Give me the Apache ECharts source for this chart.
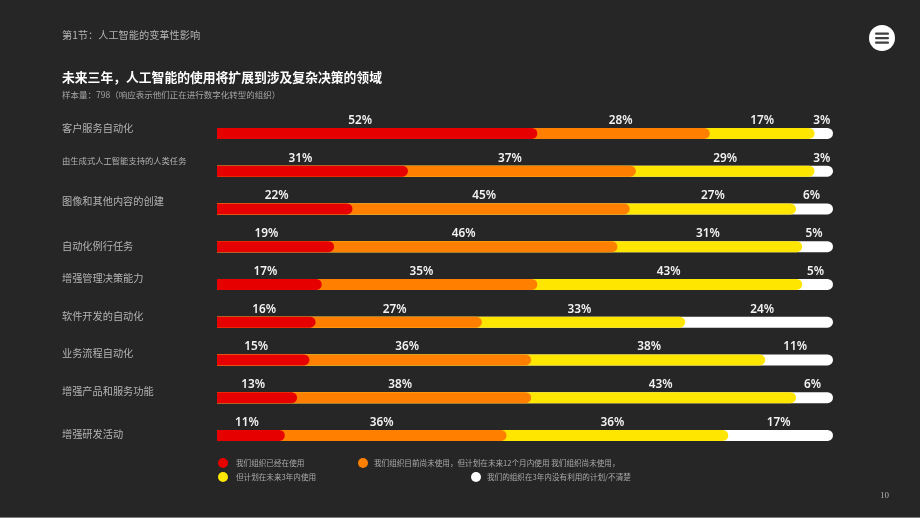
<!DOCTYPE html>
<html>
<head>
<meta charset="utf-8">
<style>
html, body { margin: 0; padding: 0; background: #262626; }
#main { width: 920px; height: 518px; }
</style>
<script src="https://cdn.jsdelivr.net/npm/echarts@6/dist/echarts.min.js"></script>
</head>
<body>
<div id="main"></div>
<script>
const categories = ['客户服务自动化', '由生成式人工智能支持的人类任务', '图像和其他内容的创建', '自动化例行任务', '增强管理决策能力', '软件开发的自动化', '业务流程自动化', '增强产品和服务功能', '增强研发活动'];
const usingNow = [52, 31, 22, 19, 17, 16, 15, 13, 11];
const within12Months = [28, 37, 45, 46, 35, 27, 36, 38, 36];
const within3Years = [17, 29, 27, 31, 43, 33, 38, 43, 36];
const noPlan = [3, 3, 6, 5, 5, 24, 11, 6, 17];
const seriesNames = ['我们组织已经在使用', '我们组织目前尚未使用，但计划在未来12个月内使用 我们组织尚未使用，', '但计划在未来3年内使用', '我们的组织在3年内没有利用的计划/不清楚'];

const FONT = '"Noto Sans CJK SC", "Noto Sans", sans-serif';
const colors = ['#e60000', '#ff8000', '#ffe600', '#ffffff'];
const values = [usingNow, within12Months, within3Years, noPlan];

// the percent labels sit a little left of their segment centre in the original
const labelNudge = [
	[-17, -3, 0, -2],
	[-12, -12, 0, -2],
	[-8, -7, 0, -3],
	[-9, -12, -2, -3.5],
	[-4, -8, -1, -2],
	[-2, -4, -4, 3],
	[-7, -13, 1, -4],
	[-4, -14, -3, -2],
	[-4, -14, -5, -2]
];
// row names are not centred on their bars either
const nameRaise = [5, 10, 8, 1, 6, 6, 7, 7, 1];

let segData = k => categories.map((c, i) => {
	let start = 0;
	for (let j = 0; j < k; j++) start += values[j][i];
	let end = start + values[k][i];
	// labels are rounded and one row adds up to 101, so the last two segments are set from the right
	if (k == 2) end = 100 - noPlan[i];
	if (k == 3) { start = 100 - noPlan[i]; end = 100; }
	return [i, start, end, values[k][i]];
});

let renderSeg = k => (params, api) => {
	let row = api.value(0);
	let p0 = api.coord([api.value(1), row]);
	let p1 = api.coord([api.value(2), row]);
	let p00 = api.coord([0, row]);
	let h = 11;
	let r = h / 2;
	return {
		type: 'group',
		children: [{
			type: 'rect',
			// each segment runs in under the rounded end of the one before it
			shape: { x: p00[0], y: p1[1] - h / 2, width: p1[0] - p00[0], height: h, r: [0, r, r, 0] },
			style: { fill: colors[k] }
		}, {
			type: 'text',
			style: {
				text: api.value(3) + '%',
				x: (p0[0] + p1[0]) / 2 + labelNudge[row][k],
				y: p1[1] - 13,
				fill: '#f2f2f2',
				font: '600 11.8px "Noto Sans", ' + FONT,
				align: 'center',
				verticalAlign: 'middle'
			}
		}]
	};
};

let rich = {};
categories.forEach((c, i) => {
	rich['n' + i] = {
		color: '#b3b3b3',
		fontFamily: FONT,
		fontSize: i == 1 ? 8.3 : 10.2,
		padding: [0, 0, nameRaise[i] * 2, 0]
	};
});

// one legend per entry, the original places them by hand
let legendAt = (name, left, top, textPadding) => ({
	left, top,
	data: [name],
	icon: 'circle',
	itemWidth: 10,
	itemHeight: 10,
	itemGap: 0,
	selectedMode: false,
	padding: 0,
	textStyle: { color: '#aaaaaa', fontFamily: FONT, fontSize: 7.6, padding: textPadding }
});

let chart = echarts.init(document.getElementById('main'), null, { renderer: 'canvas' });

chart.setOption({
	backgroundColor: '#262626',
	animation: false,
	title: [
		{ text: '第1节：人工智能的变革性影响', left: 62, top: 30, padding: 0, textStyle: { color: '#b3b3b3', fontFamily: FONT, fontSize: 10.2, fontWeight: 'normal' } },
		{ text: '未来三年，人工智能的使用将扩展到涉及复杂决策的领域', left: 62, top: 71, padding: 0, textStyle: { color: '#ffffff', fontFamily: FONT, fontSize: 12.8, fontWeight: 'bold' } },
		{ text: '样本量：798（响应表示他们正在进行数字化转型的组织）', left: 62, top: 91, padding: 0, textStyle: { color: '#a6a6a6', fontFamily: FONT, fontSize: 8.5, fontWeight: 'normal' } },
		{ text: '10', left: 880, top: 491, padding: 0, textStyle: { color: '#b3b3b3', fontFamily: 'Liberation Serif', fontSize: 9, fontWeight: 'normal' } }
	],
	legend: [
		legendAt(seriesNames[0], 218, 458, [0, 0, 0, 3]),
		legendAt(seriesNames[1], 358, 458, [0, 0, 0, 1]),
		legendAt(seriesNames[2], 218, 472, [0, 0, 4, 3]),
		legendAt(seriesNames[3], 471, 472, [2, 0, 0, 1])
	],
	grid: { left: 217, right: 87, top: 114.6, height: 339.75 },
	xAxis: { type: 'value', min: 0, max: 100, show: false },
	yAxis: {
		type: 'category',
		inverse: true,
		data: categories,
		axisLine: { show: false },
		axisTick: { show: false },
		axisLabel: {
			align: 'left',
			margin: 155,
			formatter: (v, i) => `{n${i}|${v}}`,
			rich
		}
	},
	// drawn white first so the earlier segments stay on top
	series: [3, 2, 1, 0].map(k => ({
		name: seriesNames[k],
		type: 'custom',
		itemStyle: { color: colors[k] },
		encode: { x: [1, 2], y: 0 },
		data: segData(k),
		renderItem: renderSeg(k)
	})),
	graphic: [{
		type: 'group',
		left: 869,
		top: 25,
		children: [
			{ type: 'circle', shape: { cx: 13, cy: 13, r: 13 }, style: { fill: '#ffffff' } },
			{ type: 'rect', shape: { x: 6, y: 7.5, width: 14, height: 2.2, r: 1 }, style: { fill: '#404040' } },
			{ type: 'rect', shape: { x: 6, y: 12, width: 14, height: 2.2, r: 1 }, style: { fill: '#404040' } },
			{ type: 'rect', shape: { x: 6, y: 16.5, width: 14, height: 2.2, r: 1 }, style: { fill: '#404040' } }
		]
	}, {
		type: 'rect',
		left: 0,
		top: 517,
		shape: { width: 920, height: 1 },
		style: { fill: '#7f7f7f' }
	}]
});
</script>
</body>
</html>
